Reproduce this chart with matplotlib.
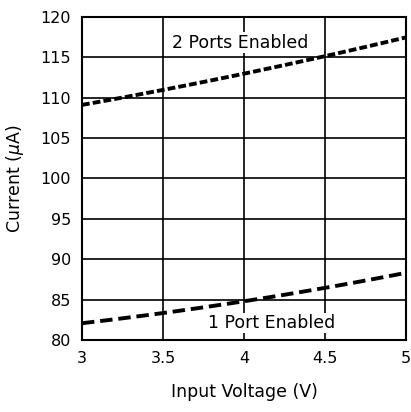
import numpy as np
import matplotlib
matplotlib.use("Agg")
import matplotlib.pyplot as plt

voltage = [3.0, 3.5, 4.0, 4.5, 5.0]
current_2port = [109.1, 111.0, 113.0, 115.1, 117.5]
current_1port = [82.1, 83.3, 84.8, 86.5, 88.3]

fig = plt.figure(figsize=(4.11, 4.12), dpi=100)
ax = fig.add_axes([82 / 411, 1 - 340 / 412, 324 / 411, 323 / 412])

xs = np.linspace(3, 5, 50)
styles = [(0, (2.0, 0.8)), (0, (3.2, 1.5))]
for cur, st in zip([current_2port, current_1port], styles):
    coef = np.polyfit(voltage, cur, 2)
    ax.plot(xs, np.polyval(coef, xs), ls=st, c='k', lw=2.8)

ax.set_xlim(3, 5)
ax.set_ylim(80, 120)
ax.set_xticks(np.arange(3, 5.01, 0.5))
ax.set_xticklabels(['3', '3.5', '4', '4.5', '5'])
ax.set_yticks(np.arange(80, 121, 5))
ax.grid(True, c='k', lw=1.2)
for s in ax.spines.values():
    s.set_linewidth(1.5)
ax.tick_params(length=0, labelsize=11.5, pad=8)

ax.text(3.975, 116.8, "2 Ports Enabled", ha='center', va='center', fontsize=12.5,
        bbox=dict(fc='white', ec='none', pad=1))
ax.text(4.17, 82.1, "1 Port Enabled", ha='center', va='center', fontsize=12.5,
        bbox=dict(fc='white', ec='none', pad=1))

ax.set_xlabel("Input Voltage (V)", fontsize=12.5, labelpad=12)
ax.set_ylabel("Current ($\\mu$A)", fontsize=12.5, labelpad=10)

plt.savefig("out.png", dpi=100)
